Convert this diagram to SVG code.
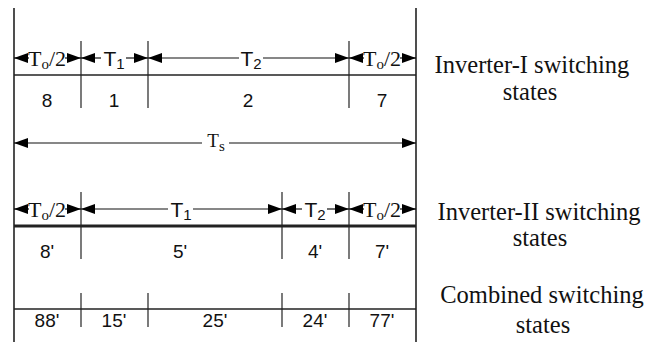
<svg xmlns="http://www.w3.org/2000/svg" width="667" height="342" viewBox="0 0 667 342">
<defs>
<marker id="ah" viewBox="0 0 14 10" markerWidth="14" markerHeight="10" refX="14" refY="5" orient="auto-start-reverse" markerUnits="userSpaceOnUse"><path d="M0,0 L14,5 L0,10 z" fill="#000"/></marker>
<style>
.frame{stroke:#222;stroke-width:1.6;fill:none}
.tick{stroke:#222;stroke-width:1.2;fill:none}
.hl{stroke:#222;stroke-width:1.7}
.hl2{stroke:#222;stroke-width:2.8}
.dim{stroke:#111;stroke-width:1.2;fill:none;marker-end:url(#ah)}
.sans{font-family:"Liberation Sans",Arial,sans-serif;font-size:19px;fill:#111;text-anchor:middle}
.tl{font-family:"Liberation Sans",Arial,sans-serif;font-size:21px;fill:#111;text-anchor:middle}
.serif{font-family:"Liberation Serif","Times New Roman",serif;font-size:22px;fill:#111;text-anchor:middle}
.lab{font-family:"Liberation Serif","Times New Roman",serif;font-size:24.5px;fill:#111;text-anchor:middle}
.sub{font-size:15px}
</style>
</defs>
<g id="frame">
<line class="frame" x1="14" y1="8" x2="14" y2="342"/>
<line class="frame" x1="416" y1="8" x2="416" y2="342"/>
</g>
<g id="row1">
<line class="tick" x1="81" y1="41" x2="81" y2="108"/>
<line class="tick" x1="148" y1="41" x2="148" y2="108"/>
<line class="tick" x1="349" y1="41" x2="349" y2="108"/>
<line class="hl" x1="14" y1="75" x2="416" y2="75"/>
<text class="sans" x="47" y="107">8</text>
<text class="sans" x="114" y="107">1</text>
<text class="sans" x="248" y="107">2</text>
<text class="sans" x="382" y="107">7</text>
</g>
<g id="row2">
<line class="tick" x1="81" y1="192" x2="81" y2="259"/>
<line class="tick" x1="282" y1="192" x2="282" y2="259"/>
<line class="tick" x1="349" y1="192" x2="349" y2="259"/>
<line class="hl2" x1="14" y1="226" x2="416" y2="226"/>
<text class="sans" x="47" y="258">8'</text>
<text class="sans" x="180" y="258">5'</text>
<text class="sans" x="315" y="258">4'</text>
<text class="sans" x="382" y="258">7'</text>
</g>
<g id="row3">
<line class="tick" x1="81" y1="293" x2="81" y2="327"/>
<line class="tick" x1="148" y1="293" x2="148" y2="327"/>
<line class="tick" x1="282" y1="293" x2="282" y2="327"/>
<line class="tick" x1="349" y1="293" x2="349" y2="327"/>
<line class="hl" x1="14" y1="309" x2="416" y2="309"/>
<text class="sans" x="47" y="327">88'</text>
<text class="sans" x="114" y="327">15'</text>
<text class="sans" x="215" y="327">25'</text>
<text class="sans" x="315" y="327">24'</text>
<text class="sans" x="382" y="327">77'</text>
</g>
<g id="connectors">
<line class="dim" x1="29" y1="58" x2="14" y2="58"/>
<line class="dim" x1="65" y1="58" x2="81" y2="58"/>
<line class="dim" x1="101" y1="58" x2="81" y2="58"/>
<line class="dim" x1="126" y1="58" x2="148" y2="58"/>
<line class="dim" x1="239" y1="58" x2="148" y2="58"/>
<line class="dim" x1="263" y1="58" x2="349" y2="58"/>
<line class="dim" x1="364" y1="58" x2="349" y2="58"/>
<line class="dim" x1="400" y1="58" x2="416" y2="58"/>
<line class="dim" x1="202" y1="143" x2="14" y2="143"/>
<line class="dim" x1="229" y1="143" x2="416" y2="143"/>
<line class="dim" x1="29" y1="209" x2="14" y2="209"/>
<line class="dim" x1="65" y1="209" x2="81" y2="209"/>
<line class="dim" x1="168" y1="209" x2="81" y2="209"/>
<line class="dim" x1="193" y1="209" x2="282" y2="209"/>
<line class="dim" x1="302" y1="209" x2="282" y2="209"/>
<line class="dim" x1="327" y1="209" x2="349" y2="209"/>
<line class="dim" x1="364" y1="209" x2="349" y2="209"/>
<line class="dim" x1="400" y1="209" x2="416" y2="209"/>
</g>
<g id="dimlabels">
<text class="serif" x="47" y="66">T<tspan class="sub" dy="3">o</tspan><tspan dy="-3">/2</tspan></text>
<text class="tl" x="114" y="66">T<tspan class="sub" dy="3">1</tspan></text>
<text class="tl" x="251" y="66">T<tspan class="sub" dy="3">2</tspan></text>
<text class="serif" x="382" y="66">T<tspan class="sub" dy="3">o</tspan><tspan dy="-3">/2</tspan></text>
<text class="serif" x="216" y="147" style="font-size:19px">T<tspan class="sub" dy="4">s</tspan></text>
<text class="serif" x="47" y="217">T<tspan class="sub" dy="3">o</tspan><tspan dy="-3">/2</tspan></text>
<text class="tl" x="181" y="217">T<tspan class="sub" dy="3">1</tspan></text>
<text class="tl" x="315" y="217">T<tspan class="sub" dy="3">2</tspan></text>
<text class="serif" x="382" y="217">T<tspan class="sub" dy="3">o</tspan><tspan dy="-3">/2</tspan></text>
</g>
<g id="labels">
<text class="lab" x="532" y="73">Inverter-I switching</text>
<text class="lab" x="530" y="100">states</text>
<text class="lab" x="539" y="220">Inverter-II switching</text>
<text class="lab" x="540" y="246">states</text>
<text class="lab" x="542" y="303">Combined switching</text>
<text class="lab" x="543" y="333">states</text>
</g>
</svg>
